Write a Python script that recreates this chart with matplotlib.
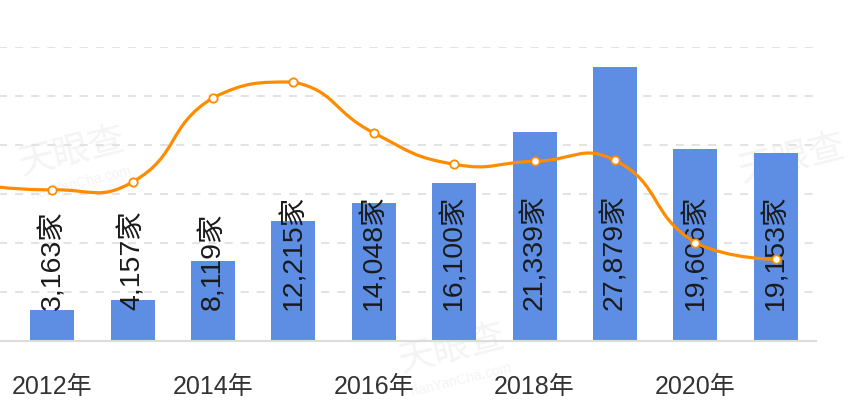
import numpy as np
import matplotlib
matplotlib.use('Agg')
import matplotlib.pyplot as plt
from matplotlib.path import Path
from matplotlib.patches import PathPatch

plt.rcParams['font.family'] = ['Liberation Sans', 'Noto Sans CJK SC', 'DejaVu Sans']

# 2011 only shows as the start of the line at the left edge
years = [2011, 2012, 2013, 2014, 2015, 2016, 2017, 2018, 2019, 2020, 2021]
bar_years = years[1:]
firms = [3163, 4157, 8119, 12215, 14048, 16100, 21339, 27879, 19606, 19153]
ratio = [16.0, 15.4, 16.2, 24.8, 26.4, 21.2, 18.0, 18.3, 18.4, 10.0, 8.3]
tick_years = [2012, 2014, 2016, 2018, 2020]

BAR = '#5D8EE4'
ORANGE = '#FF8C00'
W, H = 862, 414


def smooth_path(ax, xs, ys, smooth=0.5):
    # bezier smoothing in pixel space, control points kept inside the points' bbox
    pts = ax.transData.transform(np.column_stack([xs, ys]))
    lo, hi = pts.min(axis=0), pts.max(axis=0)
    n = len(pts)
    cps = []
    for i in range(n):
        p = pts[i]
        if i == 0 or i == n - 1:
            cps.append((p, p))
            continue
        prev, nxt = pts[i - 1], pts[i + 1]
        v = (nxt - prev) * smooth
        d0 = np.hypot(*(p - prev))
        d1 = np.hypot(*(nxt - p))
        d0, d1 = d0 / (d0 + d1), d1 / (d0 + d1)
        c_in = np.clip(p - v * d0, lo, hi)
        c_out = np.clip(p + v * d1, lo, hi)
        cps.append((c_in, c_out))
    verts = [pts[0]]
    codes = [Path.MOVETO]
    for i in range(n - 1):
        verts += [cps[i][1], cps[i + 1][0], pts[i + 1]]
        codes += [Path.CURVE4] * 3
    verts = ax.transData.inverted().transform(np.array(verts))
    return Path(verts, codes)


fig = plt.figure(figsize=(W / 100, H / 100), dpi=100)

# faint watermarks
for cx, cy, sub in [(72, 153, True), (452, 350, True), (792, 160, False)]:
    fig.text(cx / W, 1 - cy / H, '天眼查', fontsize=26, color='#f4f4f4',
             rotation=14, ha='center', va='center', zorder=-1)
    if sub:
        fig.text((cx + 8) / W, 1 - (cy + 30) / H, 'TianYanCha.com', fontsize=10,
                 color='#f4f4f4', rotation=14, ha='center', va='center', zorder=-1)

left, right = -68.3, 815.9
top, bottom = 47.7, 341.7
ax = fig.add_axes([left / W, 1 - bottom / H, (right - left) / W, (bottom - top) / H])
ax.patch.set_visible(False)

xb = [years.index(y) for y in bar_years]
ax.bar(xb, firms, width=0.547, color=BAR, zorder=2)
for x, v in zip(xb, firms):
    ax.annotate(f'{v:,}家', xy=(x, 0), xytext=(0, 32), textcoords='offset pixels',
                rotation=90, ha='center', va='bottom', fontsize=20.5, color='#1a1a1a', zorder=3)

ax.set_xlim(-0.5, len(years) - 0.5)
ax.set_ylim(0, 30000)
ax.set_yticks(range(5000, 30001, 5000))
ax.yaxis.grid(True, color='#e3e3e3', linewidth=1.45, linestyle=(0, (4, 4)), zorder=0)
ax.set_yticklabels([])
ax.tick_params(axis='y', length=0)
ax.set_xticks([years.index(y) for y in tick_years])
ax.set_xticklabels([f'{y}年' for y in tick_years], fontsize=18, color='#333333')
ax.tick_params(axis='x', length=0, pad=24)
for s in ['top', 'left', 'right']:
    ax.spines[s].set_visible(False)
ax.spines['bottom'].set_color('#dcdcdc')
ax.spines['bottom'].set_linewidth(1.5)
ax.set_axisbelow(True)

ax2 = ax.twinx()
ax2.set_ylim(0, 30)
ax2.set_xlim(ax.get_xlim())
ax2.axis('off')
xl = list(range(len(years)))
ax2.add_patch(PathPatch(smooth_path(ax2, xl, ratio), facecolor='none',
                        edgecolor=ORANGE, linewidth=2.3, capstyle='round', zorder=4))
ax2.plot(xl, ratio, linestyle='none', marker='o', markersize=6, markerfacecolor='white',
         markeredgecolor=ORANGE, markeredgewidth=1.3, zorder=5)

fig.savefig('out.png', dpi=100)
